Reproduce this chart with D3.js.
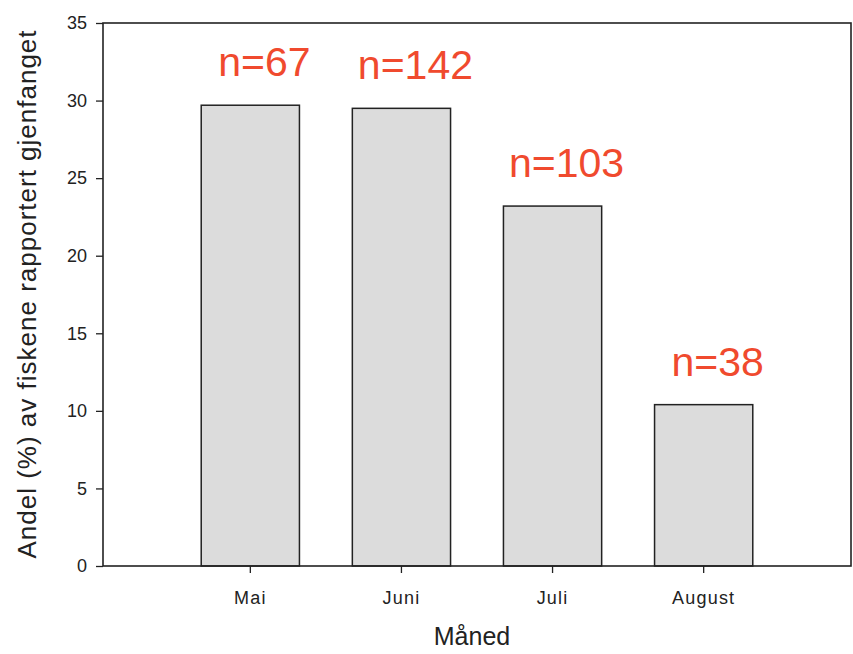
<!DOCTYPE html>
<html>
<head>
<meta charset="utf-8">
<script src="https://cdn.jsdelivr.net/npm/d3@7"></script>
<style>
  body { margin: 0; background: #fff; }
  svg { display: block; }
</style>
</head>
<body>
<div id="chart"></div>
<script>
const months = ["Mai", "Juni", "Juli", "August"];
const shares = [29.7, 29.5, 23.2, 10.4];
const counts = [67, 142, 103, 38];
const yTicks = [0, 5, 10, 15, 20, 25, 30, 35];

const totalW = 853, totalH = 654;
const margin = { top: 23, right: 2, bottom: 88, left: 103 };
const W = totalW - margin.left - margin.right;
const H = totalH - margin.top - margin.bottom;

const svg = d3.select("#chart").append("svg")
  .attr("width", totalW).attr("height", totalH);

const g = svg.append("g").attr("transform", `translate(${margin.left},${margin.top})`);

const FONT = "'Liberation Sans', Arial, sans-serif";

const x = d3.scaleBand().domain(months).range([0, W])
  .paddingInner(0.35).paddingOuter(0.65);
const y = d3.scaleLinear().domain([0, 35]).range([H, 0]);

const data = months.map((m, i) => ({ month: m, value: shares[i], n: counts[i] }));

// bars
g.selectAll("rect.bar").data(data).join("rect")
  .attr("class", "bar")
  .attr("x", d => x(d.month)).attr("width", x.bandwidth())
  .attr("y", d => y(d.value)).attr("height", d => H - y(d.value))
  .attr("fill", "#dcdcdc").attr("stroke", "#222").attr("stroke-width", 1.5);

// frame
g.append("rect").attr("x", 0).attr("y", 0).attr("width", W).attr("height", H)
  .attr("fill", "none").attr("stroke", "#222").attr("stroke-width", 1.6);

const STYLE = sel => sel
  .call(a => a.select(".domain").remove())
  .call(a => a.selectAll("line").attr("stroke", "#222").attr("stroke-width", 1.3))
  .call(a => a.selectAll("text").attr("fill", "#222").style("font-family", FONT));

g.append("g")
  .call(d3.axisLeft(y).tickValues(yTicks).tickSize(7).tickPadding(9))
  .call(STYLE)
  .call(a => a.selectAll("text").style("font-size", "18px"));

g.append("g").attr("transform", `translate(0,${H})`)
  .call(d3.axisBottom(x).tickSize(7).tickPadding(18))
  .call(STYLE)
  .call(a => a.selectAll("text").style("font-size", "18px").style("letter-spacing", "1.2px"));

// n labels
g.selectAll("text.nlab").data(data).join("text")
  .attr("class", "nlab")
  .attr("x", d => x(d.month) + x.bandwidth() / 2 + 14)
  .attr("y", d => y(d.value) - 29)
  .attr("text-anchor", "middle")
  .attr("fill", "#f04a2e")
  .style("font-family", FONT).style("font-size", "41px")
  .text(d => `n=${d.n}`);

// axis titles
svg.append("text")
  .attr("transform", `translate(36,294) rotate(-90)`)
  .attr("text-anchor", "middle").attr("fill", "#222")
  .style("font-family", FONT).style("font-size", "26px").style("letter-spacing", "1px")
  .text("Andel (%) av fiskene rapportert gjenfanget");

svg.append("text")
  .attr("x", 472).attr("y", 645)
  .attr("text-anchor", "middle").attr("fill", "#222")
  .style("font-family", FONT).style("font-size", "25px")
  .text("Måned");
</script>
</body>
</html>
